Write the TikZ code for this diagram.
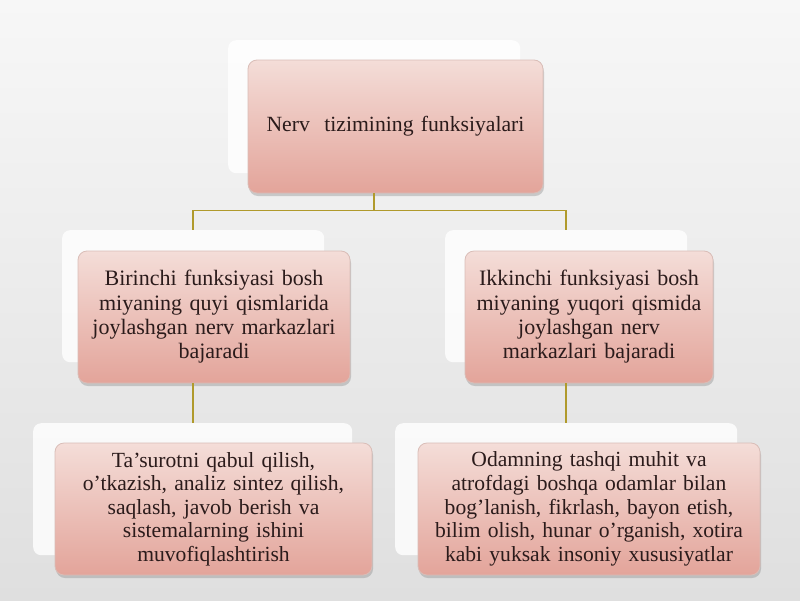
\documentclass[tikz,border=0pt]{standalone}
\usepackage{fontspec}
\setmainfont{Liberation Serif}
\usetikzlibrary{shadows,calc}
\definecolor{bgtop}{HTML}{F7F7F7}
\definecolor{bgbot}{HTML}{DFDFDF}
\definecolor{boxtop}{HTML}{F4DDD8}
\definecolor{boxbot}{HTML}{E3A49A}
\definecolor{boxline}{HTML}{D9BDB7}
\definecolor{conncol}{HTML}{B09A2C}
\definecolor{txt}{HTML}{2B1B1B}
\tikzset{
  card/.style={draw=none, fill=white, fill opacity=0.8, rounded corners=8pt, inner sep=0pt, anchor=north west},
  box/.style={rounded corners=9pt, top color=boxtop, bottom color=boxbot, draw=boxline, line width=0.8pt,
    drop shadow={shadow xshift=1pt, shadow yshift=-3pt, opacity=0.35},
    align=center, text=txt, inner sep=0pt},
  topf/.style={font=\fontsize{21.7}{26}\selectfont},
  big/.style={font=\fontsize{22}{24.3}\selectfont},
  small/.style={font=\fontsize{21.6}{23.6}\selectfont},
  conn/.style={draw=conncol, line width=1.6pt}
}
\begin{document}
\begin{tikzpicture}[x=1pt,y=-1pt]
\useasboundingbox (0,0) rectangle (800,600);
\shade[top color=bgtop, bottom color=bgbot] (0,0) rectangle (800,600);
% back cards
\node[card, minimum width=292pt, minimum height=133pt] (topcard) at (228,40) {};
\node[card, minimum width=262pt, minimum height=132pt] (lcard) at (62,230) {};
\node[card, minimum width=242pt, minimum height=132pt] (rcard) at (445,230) {};
\node[card, minimum width=319pt, minimum height=132pt] (blcard) at (33,423) {};
\node[card, minimum width=342pt, minimum height=132pt] (brcard) at (395,423) {};
% boxes
\node[box, topf, minimum width=295pt, minimum height=133pt, text width=292pt] (topbox) at (395.5,126.5)
  {Nerv\ \ tizimining funksiyalari};
\node[box, big, minimum width=272pt, minimum height=132pt, text width=270pt] (lbox) at (214,317)
  {Birinchi funksiyasi bosh\\miyaning quyi qismlarida\\joylashgan nerv markazlari\\bajaradi};
\node[box, big, minimum width=248pt, minimum height=132pt, text width=246pt] (rbox) at (589,317)
  {Ikkinchi funksiyasi bosh\\miyaning yuqori qismida\\joylashgan nerv\\markazlari bajaradi};
\node[box, small, minimum width=317pt, minimum height=132pt, text width=315pt] (blbox) at (213.5,509)
  {Ta’surotni qabul qilish,\\o’tkazish, analiz sintez qilish,\\saqlash, javob berish va\\sistemalarning ishini\\muvofiqlashtirish};
\node[box, small, minimum width=342pt, minimum height=132pt, text width=340pt] (brbox) at (589,509)
  {Odamning tashqi muhit va\\atrofdagi boshqa odamlar bilan\\bog’lanish, fikrlash, bayon etish,\\bilim olish, hunar o’rganish, xotira\\kabi yuksak insoniy xususiyatlar};
% connectors
\draw[conn] (topbox.south -| topcard.center) -- ++(0,17) coordinate (j);
\draw[conn] (j -| lcard.center) -- (j -| rcard.center);
\draw[conn] (j -| lcard.center) -- (lcard.north);
\draw[conn] (j -| rcard.center) -- (rcard.north);
\draw[conn] (lbox.south -| lcard.center) -- (blcard.north -| lcard.center);
\draw[conn] (rbox.south -| rcard.center) -- (brcard.north -| rcard.center);
\end{tikzpicture}
\end{document}
